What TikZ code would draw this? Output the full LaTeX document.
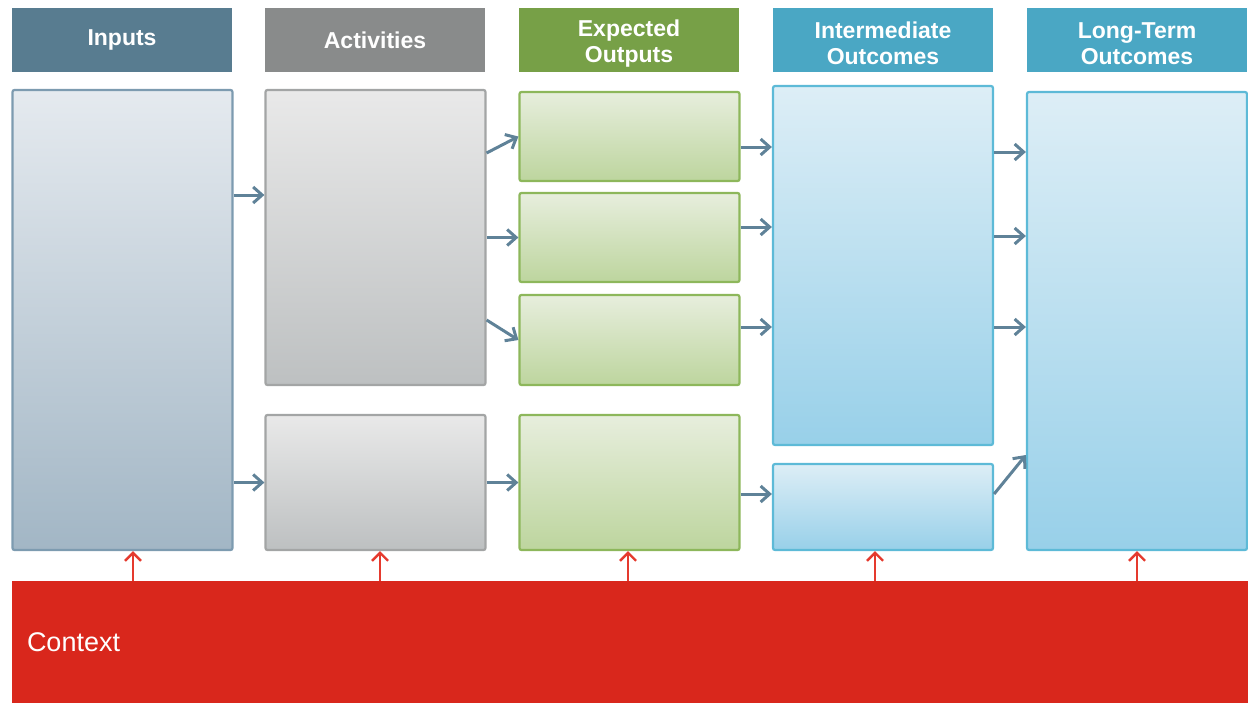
\documentclass[tikz,border=0pt]{standalone}
\usepackage{fontspec}
\setmainfont{Liberation Sans}
\usetikzlibrary{arrows.meta,calc}

\definecolor{inpHead}{HTML}{587C90}
\definecolor{inpTop}{HTML}{E5EAEF}
\definecolor{inpBot}{HTML}{A2B6C5}
\definecolor{inpLine}{HTML}{7D9BB0}
\definecolor{actHead}{HTML}{898B8B}
\definecolor{actTop}{HTML}{E9E9E9}
\definecolor{actBot}{HTML}{BDC0C1}
\definecolor{actLine}{HTML}{A3A5A5}
\definecolor{outHead}{HTML}{77A047}
\definecolor{outTop}{HTML}{E7EEDD}
\definecolor{outBot}{HTML}{BDD59E}
\definecolor{outLine}{HTML}{8DB75B}
\definecolor{imHead}{HTML}{4AA7C4}
\definecolor{imTop}{HTML}{DDEEF6}
\definecolor{imBot}{HTML}{98D0E9}
\definecolor{imLine}{HTML}{5DBAD7}
\definecolor{ctxRed}{HTML}{D9271C}
\definecolor{flowCol}{HTML}{5F8298}
\definecolor{upCol}{HTML}{E53A2E}

\tikzset{
  hdr/.style={minimum width=110pt,minimum height=32pt,inner sep=0pt,align=center,
    text=white,font=\bfseries\fontsize{11.5}{13}\selectfont},
  body/.style={minimum width=110pt,inner sep=0pt,line width=1.1pt,rounded corners=1pt},
  inbody/.style={body,draw=inpLine,top color=inpTop,bottom color=inpBot},
  actbody/.style={body,draw=actLine,top color=actTop,bottom color=actBot},
  outbody/.style={body,draw=outLine,top color=outTop,bottom color=outBot},
  imbody/.style={body,draw=imLine,top color=imTop,bottom color=imBot},
  flow/.style={draw=flowCol,line width=1.5pt,-{Straight Barb[length=4.5pt,width=8pt,line width=1.5pt]}},
  ctxup/.style={draw=upCol,line width=1.2pt,-{Straight Barb[length=4pt,width=8pt,line width=1.2pt]}}
}

\begin{document}
\begin{tikzpicture}[x=0.5pt,y=-0.5pt]
\useasboundingbox (0,0) rectangle (1248,702);
\node[hdr,fill=inpHead] (hinp) at (122,40) {Inputs};
\node[hdr,fill=actHead] (hact) at (375,40) {Activities};
\node[hdr,fill=outHead] (hout) at (629,40) {\rule{0pt}{11.5pt}Expected\\Outputs};
\node[hdr,fill=imHead] (him) at (883,40) {\rule{0pt}{11.5pt}Intermediate\\Outcomes};
\node[hdr,fill=imHead] (hlt) at (1137,40) {\rule{0pt}{11.5pt}Long-Term\\Outcomes};
\node[inbody,minimum height=230pt] (inp) at (122.5,320) {};
\node[actbody,minimum height=147.5pt] (act1) at (375.5,237.5) {};
\node[actbody,minimum height=67.5pt] (act2) at (375.5,482.5) {};
\node[outbody,minimum height=44.5pt] (o1) at (629.5,136.5) {};
\node[outbody,minimum height=44.5pt] (o2) at (629.5,237.5) {};
\node[outbody,minimum height=45pt] (o3) at (629.5,340) {};
\node[outbody,minimum height=67.5pt] (o4) at (629.5,482.5) {};
\node[imbody,minimum height=179.5pt] (im1) at (883,265.5) {};
\node[imbody,minimum height=43pt] (im2) at (883,507) {};
\node[imbody,minimum height=229pt] (lt) at (1137,321) {};
\node[fill=ctxRed,minimum width=618pt,minimum height=61pt,inner xsep=7.5pt,
  text width=603pt,align=left,text=white,font=\fontsize{13.5}{16}\selectfont] (ctx) at (630,642) {Context};
\draw[flow] ($(inp.east)+(0,-125)$) -- ($(act1.west)+(0,-42.5)$);
\draw[flow] (inp.east |- act2.west) -- (act2.west);
\draw[flow] ($(act1.east)+(0,-84.5)$) -- (o1.west);
\draw[flow] (act1.east) -- (o2.west);
\draw[flow] ($(act1.east)+(0,82.5)$) -- (o3.west);
\draw[flow] (act2.east) -- (o4.west);
\draw[flow] ($(o1.east)+(0,10.5)$) -- ($(o1.east -| im1.west)+(0,10.5)$);
\draw[flow] ($(o2.east)+(0,-10.5)$) -- ($(o2.east -| im1.west)+(0,-10.5)$);
\draw[flow] ($(o3.east)+(0,-13)$) -- ($(o3.east -| im1.west)+(0,-13)$);
\draw[flow] ($(o4.east)+(0,11.5)$) -- ($(im2.west)+(0,-13)$);
\draw[flow] ($(im1.east)+(0,-113.5)$) -- ($(im1.east -| lt.west)+(0,-113.5)$);
\draw[flow] ($(im1.east)+(0,-29.5)$) -- ($(im1.east -| lt.west)+(0,-29.5)$);
\draw[flow] ($(im1.east)+(0,61.5)$) -- ($(im1.east -| lt.west)+(0,61.5)$);
\draw[flow] ($(im2.east)+(0,-13)$) -- ($(lt.west)+(0,134)$);
\foreach \n/\d in {inp/10.5,act2/4.5,o4/-1.5,im2/-8,lt/0}
  \draw[ctxup] ($(ctx.north -| \n.south)+(\d,0)$) -- ($(\n.south)+(\d,0)$);
\end{tikzpicture}
\end{document}
